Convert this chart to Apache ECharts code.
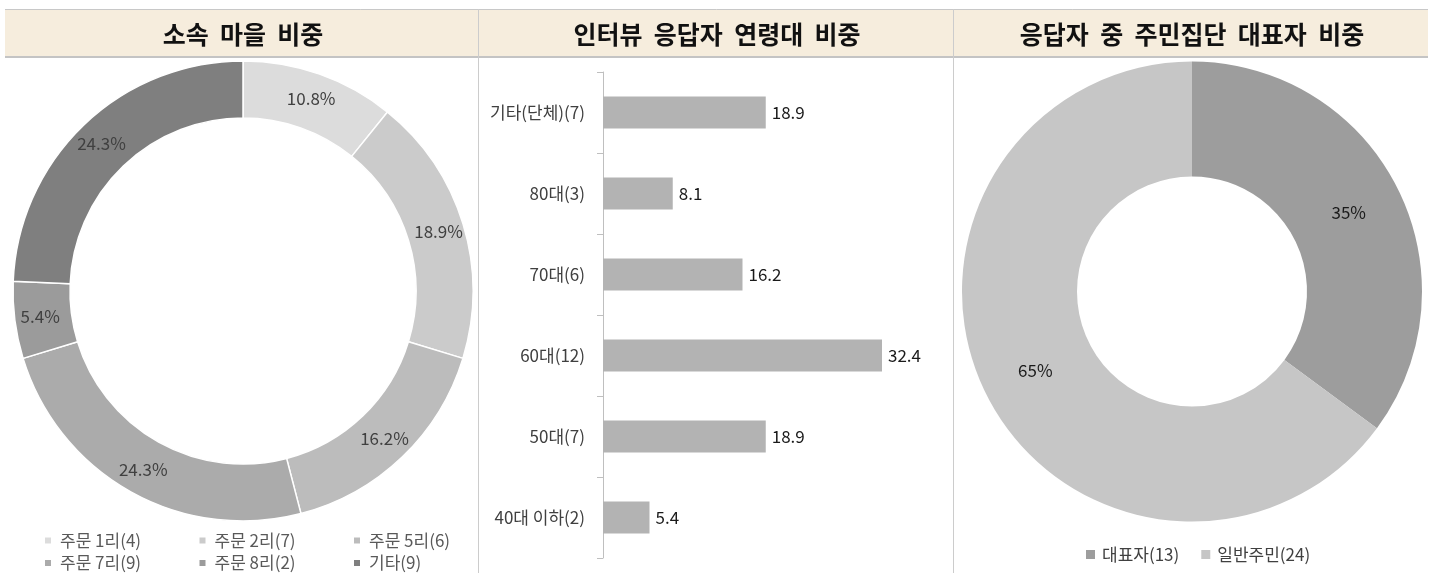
<!DOCTYPE html>
<html>
<head>
<meta charset="utf-8">
<script src="https://cdn.jsdelivr.net/npm/echarts@6/dist/echarts.min.js"></script>
<style>
html,body{margin:0;padding:0;background:#fff;}
#c{width:1435px;height:573px;}
</style>
</head>
<body>
<div id="c"></div>
<script>
// ---- data ----
var panelTitles = ['소속  마을  비중', '인터뷰  응답자  연령대  비중', '응답자  중  주민집단  대표자  비중'];

var villageNames = ['주문 1리(4)', '주문 2리(7)', '주문 5리(6)', '주문 7리(9)', '주문 8리(2)', '기타(9)'];
var villageCounts = [4, 7, 6, 9, 2, 9];
var villageColors = ['#dcdcdc', '#cbcbcb', '#bcbcbc', '#ababab', '#9b9b9b', '#7f7f7f'];

var ageCategories = ['기타(단체)(7)', '80대(3)', '70대(6)', '60대(12)', '50대(7)', '40대 이하(2)'];
var ageValues = [18.9, 8.1, 16.2, 32.4, 18.9, 5.4];

var repNames = ['대표자(13)', '일반주민(24)'];
var repCounts = [13, 24];
var repColors = ['#9d9d9d', '#c6c6c6'];

var FONT = '"Noto Sans CJK KR", "Noto Sans", sans-serif';

// ---- build ----
var chart = echarts.init(document.getElementById('c'), null, {renderer: 'canvas'});

function sum(a) { return a.reduce(function (s, v) { return s + v; }, 0); }
var villageTotal = sum(villageCounts);
var repTotal = sum(repCounts);

var titleCenters = [243, 717, 1192];
var graphics = [
  {type: 'rect', shape: {x: 5, y: 9, width: 1423, height: 48}, style: {fill: '#f6eddd', stroke: null}, z: -10},
  {type: 'line', shape: {x1: 5, y1: 9.5, x2: 1428, y2: 9.5}, style: {stroke: '#c8c8c8', lineWidth: 1}},
  {type: 'line', shape: {x1: 5, y1: 57, x2: 1428, y2: 57}, style: {stroke: '#c4c4c4', lineWidth: 2}},
  {type: 'line', shape: {x1: 478.5, y1: 9, x2: 478.5, y2: 573}, style: {stroke: '#cccccc', lineWidth: 1}},
  {type: 'line', shape: {x1: 953.5, y1: 9, x2: 953.5, y2: 573}, style: {stroke: '#cccccc', lineWidth: 1}}
];
panelTitles.forEach(function (t, i) {
  graphics.push({
    type: 'text', x: titleCenters[i], y: 34,
    style: {text: t, fill: '#111', fontSize: 25, fontWeight: 'bold', fontFamily: FONT,
      align: 'center', verticalAlign: 'middle', textAlign: 'center', textVerticalAlign: 'middle'}
  });
});

var legends = [];
villageNames.forEach(function (n, i) {
  var col = i % 3, row = Math.floor(i / 3);
  legends.push({
    data: [n], left: 43 + col * 154.5, top: 532 + row * 22.5, padding: 0,
    icon: 'rect', itemWidth: 8, itemHeight: 8, selectedMode: false,
    textStyle: {fontSize: 17, color: '#595959', fontFamily: FONT, padding: [0, 0, 0, 3]}
  });
});
legends.push({
  data: repNames, left: 1086, top: 546, padding: 0, itemGap: 22,
  icon: 'rect', itemWidth: 9, itemHeight: 9, selectedMode: false,
  textStyle: {fontSize: 17, color: '#404040', fontFamily: FONT, padding: [0, 0, 0, 2]}
});

var option = {
  animation: false,
  backgroundColor: '#ffffff',
  graphic: graphics,
  legend: legends,
  grid: {left: 603, top: 72, bottom: 15, width: 40 * 8.611, containLabel: false},
  xAxis: {type: 'value', min: 0, max: 40, show: false, splitLine: {show: false}},
  yAxis: {
    type: 'category', data: ageCategories, inverse: true,
    axisLine: {show: true, lineStyle: {color: '#bfbfbf', width: 1}},
    axisTick: {show: true, length: 6, lineStyle: {color: '#bfbfbf'}},
    axisLabel: {fontSize: 17, color: '#404040', fontFamily: FONT, margin: 18}
  },
  series: [
    {
      type: 'pie', name: 'village', center: [243, 291], radius: [173, 230],
      startAngle: 90, clockwise: true, silent: true,
      data: villageNames.map(function (n, i) {
        return {name: n, value: villageCounts[i], itemStyle: {color: villageColors[i]}};
      }),
      itemStyle: {borderColor: '#ffffff', borderWidth: 1.5},
      label: {show: true, position: 'inside', fontSize: 17, color: '#404040', fontFamily: FONT,
        formatter: function (p) { return (p.value / villageTotal * 100).toFixed(1) + '%'; }},
      labelLine: {show: false}
    },
    {
      type: 'bar', name: 'age', data: ageValues, barWidth: 32,
      itemStyle: {color: '#b3b3b3'}, silent: true,
      label: {show: true, position: 'right', distance: 6, fontSize: 17, color: '#1a1a1a', fontFamily: FONT}
    },
    {
      type: 'pie', name: 'rep', center: [1192, 291.5], radius: [115, 230],
      startAngle: 90, clockwise: true, silent: true,
      data: repNames.map(function (n, i) {
        return {name: n, value: repCounts[i], itemStyle: {color: repColors[i]}};
      }),
      label: {show: true, position: 'inside', fontSize: 17, color: '#1a1a1a', fontFamily: FONT,
        formatter: function (p) { return Math.round(p.value / repTotal * 100) + '%'; }},
      labelLine: {show: false}
    }
  ]
};
chart.setOption(option);
</script>
</body>
</html>
